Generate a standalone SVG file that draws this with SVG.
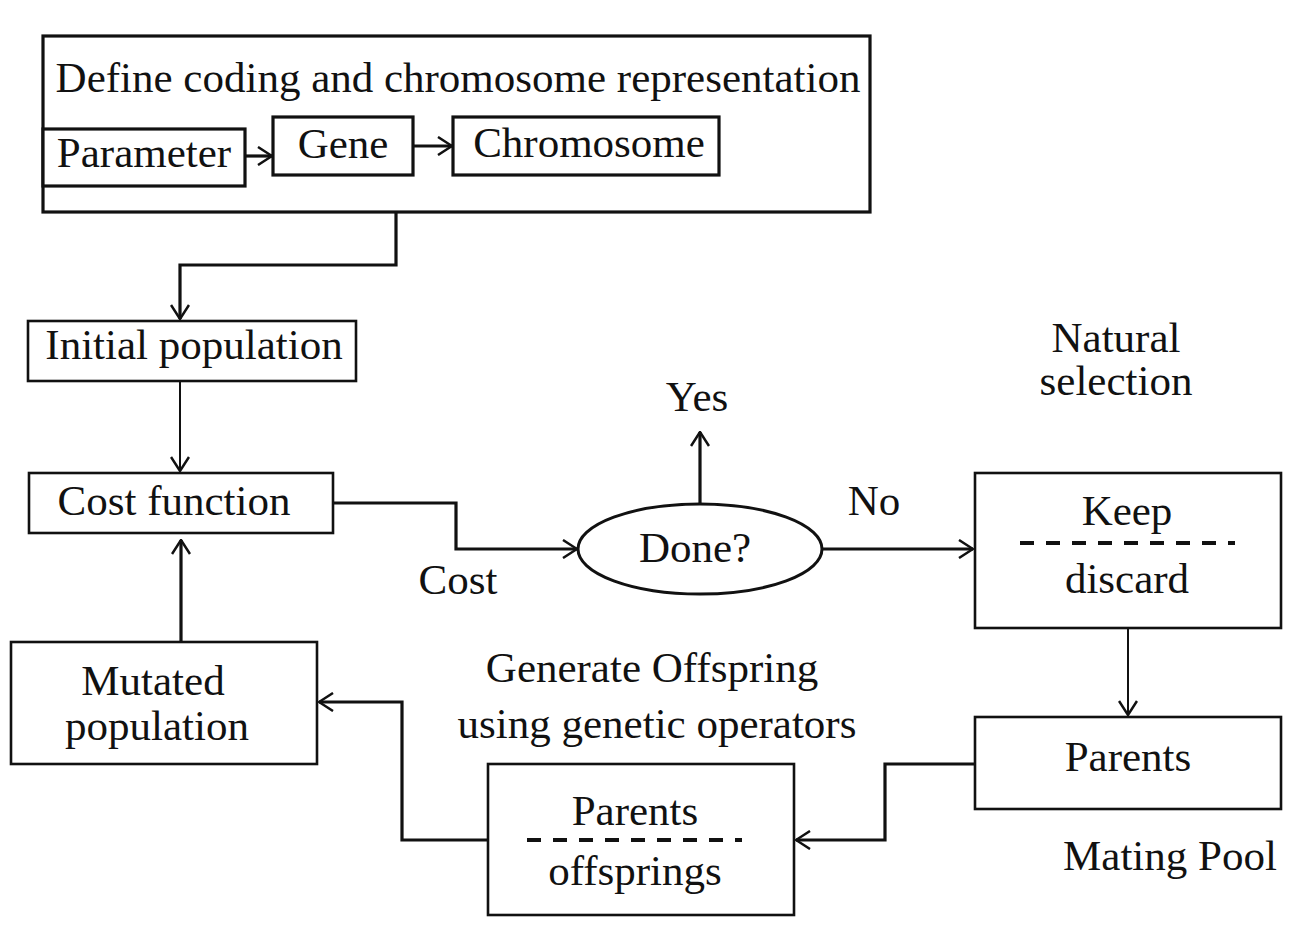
<svg xmlns="http://www.w3.org/2000/svg" width="1293" height="934" viewBox="0 0 1293 934">
<defs>
<marker id="ah" viewBox="0 0 16 20" refX="15" refY="10" markerWidth="16" markerHeight="20" markerUnits="userSpaceOnUse" orient="auto">
<path d="M1,1 L15,10 L1,19" fill="none" stroke="#111" stroke-width="2.5"/>
</marker>
</defs>
<style>
text{font-family:"Liberation Serif","Times New Roman",serif;font-size:43px;fill:#111;text-anchor:middle}
.box{fill:#fff;stroke:#111;stroke-width:2.6}
.thick{stroke-width:3.2}
.c{fill:none;stroke:#111;stroke-width:3.2;marker-end:url(#ah)}
.thin{stroke-width:2}
.dash{stroke:#111;stroke-width:4;stroke-dasharray:14 12;fill:none}
</style>
<rect width="1293" height="934" fill="#fff"/>
<g id="define">
<rect class="box thick" x="43" y="36" width="827" height="176"/>
<text x="458" y="92">Define coding and chromosome representation</text>
</g>
<g id="parameter">
<rect class="box thick" x="43" y="129" width="202" height="57"/>
<text x="144" y="167">Parameter</text>
</g>
<g id="gene">
<rect class="box thick" x="273" y="117" width="140" height="58"/>
<text x="343" y="158">Gene</text>
</g>
<g id="chromosome">
<rect class="box thick" x="453" y="117" width="266" height="58"/>
<text x="589" y="157">Chromosome</text>
</g>
<g id="initial">
<rect class="box" x="28" y="321" width="328" height="60"/>
<text x="194" y="359">Initial population</text>
</g>
<g id="cost">
<rect class="box" x="29" y="473" width="304" height="60"/>
<text x="174" y="515">Cost function</text>
</g>
<g id="done">
<ellipse cx="700" cy="549" rx="122" ry="45" fill="#fff" stroke="#111" stroke-width="3"/>
<text x="695" y="562">Done?</text>
</g>
<g id="keep">
<rect class="box" x="975" y="473" width="306" height="155"/>
<text x="1127" y="525">Keep</text>
<line class="dash" x1="1020" y1="543" x2="1235" y2="543"/>
<text x="1127" y="593">discard</text>
</g>
<g id="parents">
<rect class="box" x="975" y="717" width="306" height="92"/>
<text x="1128" y="771">Parents</text>
</g>
<g id="offspring">
<rect class="box" x="488" y="764" width="306" height="151"/>
<text x="635" y="825">Parents</text>
<line class="dash" x1="527" y1="840" x2="742" y2="840"/>
<text x="635" y="885">offsprings</text>
</g>
<g id="mutated">
<rect class="box" x="11" y="642" width="306" height="122"/>
<text x="153" y="695">Mutated</text>
<text x="157" y="740">population</text>
</g>
<g id="labels">
<text x="697" y="411">Yes</text>
<text x="874" y="515">No</text>
<text x="458" y="594">Cost</text>
<text x="1116" y="352">Natural</text>
<text x="1116" y="395">selection</text>
<text x="1170" y="870">Mating Pool</text>
<text x="652" y="682">Generate Offspring</text>
<text x="657" y="738">using genetic operators</text>
</g>
<g id="connectors">
<path class="c" d="M245,156 H272"/>
<path class="c" d="M413,146 H452"/>
<path class="c" d="M396,212 V265 H180 V319"/>
<path class="c thin" d="M180,381 V471"/>
<path class="c" d="M333,503 H456 V549 H577"/>
<path class="c" d="M700,504 V432"/>
<path class="c" d="M822,549 H973"/>
<path class="c thin" d="M1128,628 V715"/>
<path class="c" d="M975,764 H885 V840 H796"/>
<path class="c" d="M488,840 H402 V702 H319"/>
<path class="c" d="M181,642 V540"/>
</g>
</svg>
